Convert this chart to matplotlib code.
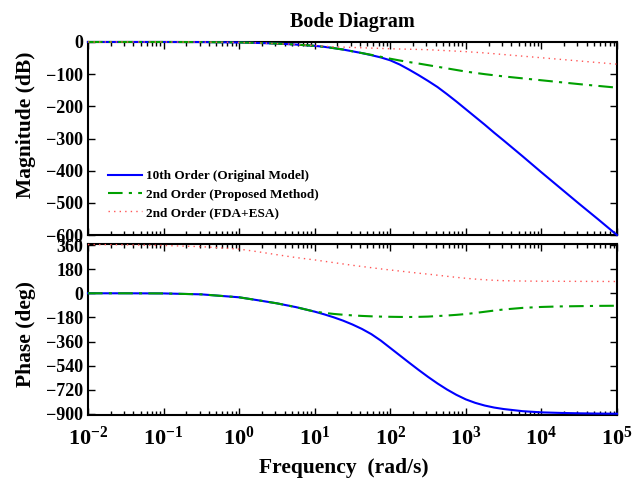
import numpy as np
import matplotlib
matplotlib.use("Agg")
import matplotlib.pyplot as plt
from matplotlib.ticker import LogLocator, NullFormatter, FixedLocator

plt.rcParams['font.family'] = ['Liberation Serif', 'DejaVu Serif']
plt.rcParams['font.weight'] = 'bold'
plt.rcParams['mathtext.fontset'] = 'custom'
plt.rcParams['mathtext.rm'] = 'Liberation Serif:bold'
plt.rcParams['mathtext.bf'] = 'Liberation Serif:bold'
plt.rcParams['mathtext.default'] = 'bf'

# log10 of frequency (rad/s)
log_freq = [-2, -1.5, -1, -0.5, 0, 0.25, 0.5, 0.75, 1, 1.125, 1.25, 1.375,
            1.5, 1.625, 1.75, 1.875, 2, 2.125, 2.25, 2.375, 2.5, 2.625,
            2.75, 2.875, 3, 3.125, 3.25, 3.375, 3.5, 3.75, 4, 4.25, 4.5,
            4.75, 5]

mag_orig = [0, 0, 0, -0.3, -1.5, -3, -5, -8, -12, -15, -19, -23.5,
            -29, -34.5, -41, -48, -57, -70, -86, -103, -121, -140,
            -162, -185, -209, -233, -257, -282, -306, -355, -405, -454, -503,
            -551, -600]
mag_prop = [0, 0, 0, -0.3, -1.5, -3, -5, -8, -12, -15, -19, -23.5,
            -29, -34.5, -40, -46, -52, -57.5, -62.5, -67, -72, -77,
            -82, -87, -92, -96, -100, -103.5, -107, -113, -119, -125, -131,
            -136.5, -142]
mag_fda = [0, 0, 0, -0.3, -1.5, -3, -5, -8, -11, -13, -15, -16,
           -17, -18, -19, -20, -21, -21.8, -22.5, -23.2, -24, -25.5,
           -27, -28.5, -30, -32, -34, -36.5, -39, -44, -49, -54, -59,
           -64, -69]

ph_orig = [0, 0, -1, -8, -30, -52, -75, -103, -137, -157, -179, -204,
           -233, -266, -305, -353, -408, -463, -518, -572, -624, -673,
           -718, -758, -792, -818, -838, -853, -864, -880, -889, -893, -896,
           -898, -899]
ph_prop = [0, 0, -1, -8, -30, -52, -75, -103, -137, -146, -154, -160,
           -165, -169, -172, -174, -175.5, -176.5, -177, -176, -174, -170,
           -166, -161, -155, -147, -138, -129, -121, -109, -102, -98, -96,
           -94, -93]
ph_fda = [364, 362, 357, 348, 330, 310, 288, 267, 249, 239, 229, 219,
          209, 200, 191, 182, 174, 166, 158, 150, 143, 135,
          127, 119, 112, 106, 101, 97, 94, 91.5, 90, 89.5, 89,
          88.5, 88]

labels = ['10th Order (Original Model)', '2nd Order (Proposed Method)',
          '2nd Order (FDA+ESA)']
mag_ticks = [0, -100, -200, -300, -400, -500, -600]
ph_ticks = [360, 180, 0, -180, -360, -540, -720, -900]
freq_ticks = [1e-2, 1e-1, 1e0, 1e1, 1e2, 1e3, 1e4, 1e5]
freq_ticklabels = [r'$10^{-2}$', r'$10^{-1}$', r'$10^{0}$', r'$10^{1}$',
                   r'$10^{2}$', r'$10^{3}$', r'$10^{4}$', r'$10^{5}$']

freq = 10.0 ** np.array(log_freq)

fig = plt.figure(figsize=(6.42, 4.82), dpi=100)
ax1 = fig.add_axes([0.137, 0.5124, 0.824, 0.4005])
ax2 = fig.add_axes([0.137, 0.1400, 0.824, 0.3538])

blue = dict(color='#0000ff', lw=1.5, ls='-', zorder=3, clip_on=False)
green = dict(color='#00a000', lw=1.5, ls=(0, (7, 3, 1.5, 3)), zorder=3, clip_on=False)
red = dict(color='#ff5555', lw=1.0, ls=(0, (1, 3)), zorder=3, clip_on=False)

ax1.semilogx(freq, mag_orig, label=labels[0], **blue)
ax1.semilogx(freq, mag_prop, label=labels[1], **green)
ax1.semilogx(freq, mag_fda, label=labels[2], **red)

ax2.semilogx(freq, ph_orig, **blue)
ax2.semilogx(freq, ph_prop, **green)
ax2.semilogx(freq, ph_fda, **red)

for ax in (ax1, ax2):
    ax.set_xlim(1e-2, 1e5)
    ax.xaxis.set_major_locator(FixedLocator(freq_ticks))
    ax.xaxis.set_minor_locator(LogLocator(base=10, subs=np.arange(2, 10), numticks=20))
    ax.xaxis.set_minor_formatter(NullFormatter())
    ax.tick_params(which='both', direction='in', top=True, right=True,
                   labelsize=13, width=1.0)
    ax.tick_params(which='major', length=5)
    ax.tick_params(which='minor', length=3)
    for s in ax.spines.values():
        s.set_linewidth(1.5)

ax1.set_ylim(-600, 0)
ax1.yaxis.set_major_locator(FixedLocator(mag_ticks))
ax1.set_yticklabels([str(v).replace('-', '\u2212') for v in mag_ticks],
                    fontweight='bold')
ax1.set_xticklabels([])

ax2.set_ylim(-905, 368)
ax2.yaxis.set_major_locator(FixedLocator(ph_ticks))
ax2.set_yticklabels([str(v).replace('-', '\u2212') for v in ph_ticks],
                    fontweight='bold')
ax2.set_xticklabels(freq_ticklabels)
ax2.tick_params(axis='x', which='major', pad=9, labelsize=16)

ax1.set_title('Bode Diagram', fontsize=14.5, fontweight='bold', pad=11)
ax1.set_ylabel('Magnitude (dB)', fontsize=15.5, fontweight='bold')
ax2.set_ylabel('Phase (deg)', fontsize=15.5, fontweight='bold')
ax2.set_xlabel('Frequency  (rad/s)', fontsize=15.5, fontweight='bold')
ax1.yaxis.set_label_coords(-0.099, 0.573)
ax2.yaxis.set_label_coords(-0.099, 0.475)
ax2.xaxis.set_label_coords(0.484, -0.255)

leg = ax1.legend(loc='upper left', bbox_to_anchor=(0.028, 0.363), frameon=False,
                 prop={'family': 'Liberation Serif', 'weight': 'bold', 'size': 9.5},
                 handlelength=2.6, labelspacing=0.45, handletextpad=0.3,
                 borderaxespad=0.0)

fig.savefig('out.png', dpi=100)
